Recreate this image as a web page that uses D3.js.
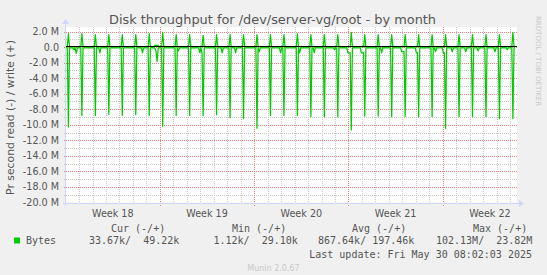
<!DOCTYPE html>
<html><head><meta charset="utf-8">
<script src="https://cdn.jsdelivr.net/npm/d3@7"></script>
<style>
html,body{margin:0;padding:0;background:#f0f0f0;}
svg{display:block;}
text{white-space:pre;}
</style></head><body>
<svg id="c" width="547" height="275"></svg>
<script>
// ---------------- data ----------------
const title = "Disk throughput for /dev/server-vg/root - by month";
const yAxisTitle = "Pr second read (-) / write (+)";
const firstDay = "2025-04-27T00:00:00Z";
const timeDomain = ["2025-04-27T00:42:00Z", "2025-05-30T10:30:00Z"];
const lastSample = "2025-05-30T09:00:00Z";
const slotHours = 2;          // RRA resolution of the month graph
const spikeSlot = 2;          // daily job slot (04:00-06:00)
// daily read peaks (M bytes/s, negative side), one per day from Apr 27
const readPeaks = [-10.3, -8.8, -8.8, -8.65, -8.8, -8.7, -8.8, -10.2, -8.8, -8.8, -8.8, -8.7,
  -9.1, -9.2, -10.45, -8.8, -8.8, -8.8, -8.95, -8.95, -8.95, -10.67, -8.9, -8.9, -8.95,
  -8.95, -8.95, -8.95, -10.45, -8.95, -8.95, -8.95, -9.2, -9.2];
// daily write peaks (M bytes/s)
const writePeaks = [1.72, 1.72, 1.6, 1.6, 1.6, 1.6, 1.72, 1.9, 1.6, 1.6, 1.5, 1.6, 1.6, 1.6,
  1.6, 1.6, 1.6, 1.72, 1.6, 1.6, 1.6, 1.9, 1.6, 1.6, 1.6, 1.6, 1.6, 1.6, 1.6, 1.6, 1.6,
  1.6, 1.6, 1.9];
const readBaseline = -0.12;
const writeBaseline = 0.03;
// smaller read dips: [day, hour, value M]
const readDips = [[0,14,-0.35],[0,18,-0.8],[2,12,-0.75],[5,16,-0.75],[6,16,-0.5],[6,18,-1.85],
  [8,8,-0.5],[9,22,-0.7],[10,2,-0.75],[11,14,-0.75],[12,14,-0.75],[14,8,-0.6],[15,22,-0.75],
  [17,8,-0.75],[18,10,-0.75],[19,22,-0.35],[20,22,-0.75],[21,0,-0.75],[21,2,-0.75],
  [21,22,-0.75],[22,0,-0.75],[22,2,-0.75],[23,10,-0.75],[24,22,-0.6],[25,0,-0.6],[25,2,-0.6],
  [26,0,-0.75],[26,2,-0.75],[27,10,-0.6],[28,0,-0.75],[28,2,-0.75],[28,16,-0.6],[29,16,-0.6],
  [30,14,-0.5],[31,20,-0.6],[32,18,-0.35]];
// small write bumps: [day, hour, value M]
const writeBumps = [[6,14,0.22],[6,16,0.22],[6,18,0.22],[6,20,0.2]];
const yMajorTicks = [2, 0, -2, -4, -6, -8, -10, -12, -14, -16, -18, -20];
const yTickLabels = ["2.0 M","0.0","-2.0 M","-4.0 M","-6.0 M","-8.0 M","-10.0 M","-12.0 M",
  "-14.0 M","-16.0 M","-18.0 M","-20.0 M"];
const yMinorTicks = [1, -1, -3, -5, -7, -9, -11, -13, -15, -17, -19];
const yDomain = [-20, 2.58];
const seriesName = "Bytes";
const legendHeaders = ["Cur (-/+)", "Min (-/+)", "Avg (-/+)", "Max (-/+)"];
const legendValues = ["33.67k/  49.22k", "1.12k/  29.10k", "867.64k/ 197.46k", "102.13M/  23.82M"];
const lastUpdate = "Last update: Fri May 30 08:02:03 2025";
const version = "Munin 2.0.67";
const watermark = "RRDTOOL / TOBI OETIKER";

// ---------------- layout ----------------
const L = 66, R = 516, T = 27, B = 202.5;
const green = "#00cc00", txt = "#555";
const svg = d3.select("#c");
const H = 3600e3;
const t0 = Date.parse(firstDay), tEnd = Date.parse(lastSample);
const x = d3.scaleUtc().domain(timeDomain.map(d => new Date(d))).range([L, R]);
const y = d3.scaleLinear().domain(yDomain).range([B, T]);

// build series at 2h resolution
const perDay = 24 / slotHours;
const read = [], write = [];
for (let d = 0; d < readPeaks.length; d++) {
  for (let s = 0; s < perDay; s++) {
    const t = t0 + d * 24 * H + (s * slotHours + slotHours / 2) * H;
    if (t > tEnd) break;
    const spike = s === spikeSlot;
    read.push({t: new Date(t), v: spike ? readPeaks[d] : readBaseline});
    write.push({t: new Date(t), v: spike ? writePeaks[d] : writeBaseline});
  }
}
readDips.forEach(([d, h, v]) => { const i = d * perDay + Math.floor(h / slotHours); if (read[i]) read[i].v = v; });
writeBumps.forEach(([d, h, v]) => { const i = d * perDay + Math.floor(h / slotHours); if (write[i]) write[i].v = v; });

// background
svg.append("rect").attr("width", 547).attr("height", 275).attr("fill", "#f0f0f0");
svg.append("rect").attr("x", L).attr("y", T).attr("width", R - L + 1).attr("height", B - T).attr("fill", "#fff");

// grid
const px = v => Math.round(v) + 0.5;
const g = svg.append("g");
const [d0, d1] = x.domain();
const days = d3.utcDay.range(d0, d1).filter(d => d.getUTCDay() !== 0);
const weeks = d3.utcSunday.range(d0, d1);
g.selectAll(".vmin").data(days).join("line")
  .attr("x1", d => px(x(d))).attr("x2", d => px(x(d))).attr("y1", T).attr("y2", B + 2.5)
  .attr("stroke", "#c8c8c8").attr("stroke-dasharray", "1,1");
g.selectAll(".hmin").data(yMinorTicks).join("line")
  .attr("x1", L - 2).attr("x2", R + 1).attr("y1", d => px(y(d))).attr("y2", d => px(y(d)))
  .attr("stroke", "#c8c8c8").attr("stroke-dasharray", "1,1");
g.selectAll(".vmaj").data(weeks).join("line")
  .attr("x1", d => px(x(d))).attr("x2", d => px(x(d))).attr("y1", T).attr("y2", B + 3.5)
  .attr("stroke", "#f08080").attr("stroke-dasharray", "1,1");
g.selectAll(".hmaj").data(yMajorTicks).join("line")
  .attr("x1", L - 2).attr("x2", R + 1).attr("y1", d => px(y(d))).attr("y2", d => px(y(d)))
  .attr("stroke", "#f08080").attr("stroke-dasharray", "1,1");

// axes
const axc = "#cfd6f8";
svg.append("line").attr("x1", L - 3).attr("x2", R + 4).attr("y1", px(y(-20))).attr("y2", px(y(-20))).attr("stroke", axc);
svg.append("line").attr("x1", L - 0.5).attr("x2", L - 0.5).attr("y1", B + 3).attr("y2", T - 4).attr("stroke", axc);
const ay = px(y(-20));
svg.append("path").attr("d", `M${R+3},${ay-3.5}L${R+8},${ay}L${R+3},${ay+3.5}Z`).attr("fill", axc);
svg.append("path").attr("d", `M${L-4},${T-3}L${L-0.5},${T-8}L${L+3},${T-3}Z`).attr("fill", axc);

// y labels
svg.selectAll(".yl").data(yMajorTicks).join("text")
  .attr("x", 59).attr("y", d => y(d) + 3.5).attr("text-anchor", "end")
  .attr("font-family", "DejaVu Sans").attr("font-size", 9.6).attr("fill", txt)
  .text((d, i) => yTickLabels[i]);

// x labels
const weekFmt = d3.utcFormat("Week %V");
const labelWeeks = d3.utcSunday.range(d3.utcWeek.offset(d0, -1), d1)
  .filter(s => +s <= +d1 - 3.5 * 24 * H)
  .map(s => new Date(+s + 3.5 * 24 * H))
  .filter(t => x(t) >= L);
svg.selectAll(".xl").data(labelWeeks).join("text")
  .attr("x", d => x(d)).attr("y", 216.6).attr("text-anchor", "middle")
  .attr("font-family", "DejaVu Sans").attr("font-size", 9.6).attr("fill", txt)
  .text(d => weekFmt(d));

// series
const clip = svg.append("clipPath").attr("id", "pc").append("rect")
  .attr("x", L).attr("y", T).attr("width", R - L + 1).attr("height", B - T);
const line = d3.line().x(d => x(d.t)).y(d => y(d.v));
const sg = svg.append("g").attr("clip-path", "url(#pc)");
sg.append("path").datum(read).attr("d", line).attr("fill", "none").attr("stroke", green)
  .attr("stroke-width", 1.25).attr("stroke-linejoin", "round");
sg.append("path").datum(write).attr("d", line).attr("fill", "none").attr("stroke", green)
  .attr("stroke-width", 1.25).attr("stroke-linejoin", "round");
// zero rule
svg.append("line").attr("x1", L).attr("x2", R + 1).attr("y1", px(y(0)) - 1).attr("y2", px(y(0)) - 1)
  .attr("stroke", "#000").attr("stroke-width", 1);

// title
svg.append("text").attr("x", 272.5).attr("y", 24).attr("text-anchor", "middle")
  .attr("font-family", "DejaVu Sans").attr("font-size", 12.9).attr("fill", txt).text(title);
// y-axis title
svg.append("text").attr("transform", `translate(14,117.5) rotate(-90)`).attr("text-anchor", "middle")
  .attr("font-family", "DejaVu Sans").attr("font-size", 10.8).attr("fill", txt).text(yAxisTitle);
// watermark
svg.append("text").attr("transform", `translate(536,16) rotate(90)`)
  .attr("font-family", "DejaVu Sans").attr("font-size", 7).attr("fill", "#c8c8c8").text(watermark);

// legend
const mono = "DejaVu Sans Mono";
const hx = [111, 232, 352, 473];
const vx = [89, 213.5, 318, 436];
svg.selectAll(".lh").data(legendHeaders).join("text")
  .attr("x", (d, i) => hx[i]).attr("y", 232.3).attr("font-family", mono).attr("font-size", 10)
  .attr("fill", txt).text(d => d);
svg.append("rect").attr("x", 14).attr("y", 237.5).attr("width", 6).attr("height", 6).attr("fill", green);
svg.append("text").attr("x", 26).attr("y", 244).attr("font-family", mono).attr("font-size", 10)
  .attr("fill", txt).text(seriesName);
svg.selectAll(".lv").data(legendValues).join("text")
  .attr("x", (d, i) => vx[i]).attr("y", 244).attr("font-family", mono).attr("font-size", 10)
  .attr("fill", txt).text(d => d);
svg.append("text").attr("x", 532).attr("y", 258).attr("text-anchor", "end").attr("font-family", mono)
  .attr("font-size", 10).attr("fill", txt).text(lastUpdate);
svg.append("text").attr("x", 273.5).attr("y", 270.6).attr("text-anchor", "middle")
  .attr("font-family", "DejaVu Sans").attr("font-size", 8).attr("fill", "#c8c8c8").text(version);
</script>
</body></html>
